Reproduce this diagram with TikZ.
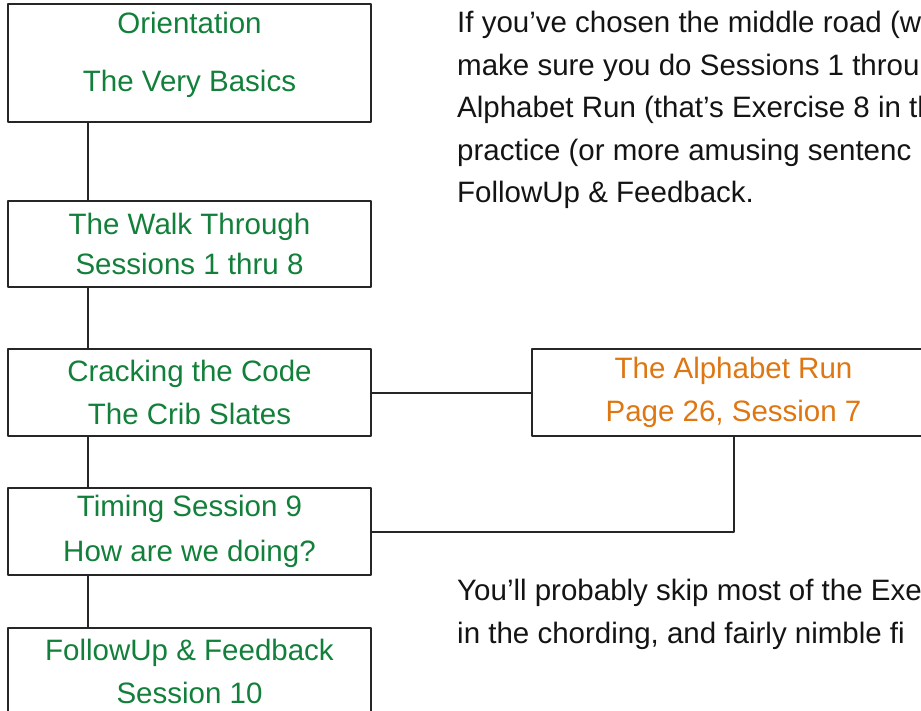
\documentclass[tikz,border=0pt]{standalone}
\usepackage{fontspec}
\setmainfont{Liberation Sans}
\definecolor{stepgreen}{RGB}{18,128,58}
\definecolor{steporange}{RGB}{222,118,18}
\newcommand\stepfont{\fontsize{29.5}{42.5}\selectfont}

\begin{document}
\begin{tikzpicture}[x=1pt, y=1pt, line join=round,
  stagebox/.style={draw=black!85, line width=2pt, minimum width=363pt,
    minimum height=87pt, inner sep=0pt, outer sep=0pt, align=center,
    text=stepgreen, font=\stepfont},
  link/.style={draw=black!85, line width=2pt},
  prose/.style={anchor=base west, align=left, inner sep=0pt, font=\stepfont,
    text=black!92}]
\useasboundingbox (0,0) rectangle (921,-711);
\clip (0,0) rectangle (921,-711);

% === Left column of stages ===
\node[stagebox, minimum height=118pt] (basics) at (189.5,-63)
  {Orientation\\[16pt] The Very Basics\rule[-22pt]{0pt}{0pt}};
\node[stagebox, minimum height=86pt] (walk) at (189.5,-244)
  {The Walk Through\\[-3pt] Sessions 1 thru 8};
\node[stagebox] (crack) at (189.5,-392.5)
  {Cracking the Code\\ The Crib Slates};
\node[stagebox] (timing) at (189.5,-531.5)
  {Timing Session 9\\[2pt] How are we doing?};
\node[stagebox] (follow) at (189.5,-671.5)
  {FollowUp \& Feedback\\ Session 10};

% === Side stage ===
\node[stagebox, minimum width=403pt, text=steporange] (alpha) at (733.5,-392.5)
  {The Alphabet Run\\ Page 26, Session 7};

% === Connectors ===
\foreach \a/\b in {basics/walk, walk/crack, crack/timing, timing/follow}
  \draw[link] ([xshift=80pt]\a.south west) -- ([xshift=80pt]\b.north west);
\draw[link] (crack.east) -- (alpha.west);
\draw[link] (alpha.south) |- (timing.east);

% === Running text (anchored on the last line) ===
\node[prose] (intro) at (457,-203)
  {If you’ve chosen the middle road (w\\
   make sure you do Sessions 1 throu\\
   Alphabet Run (that’s Exercise 8 in th\\
   practice (or more amusing sentenc\\
   FollowUp \& Feedback.};
\node[prose] (skip) at (457,-643)
  {You’ll probably skip most of the Exe\\
   in the chording, and fairly nimble fi};
\end{tikzpicture}
\end{document}
